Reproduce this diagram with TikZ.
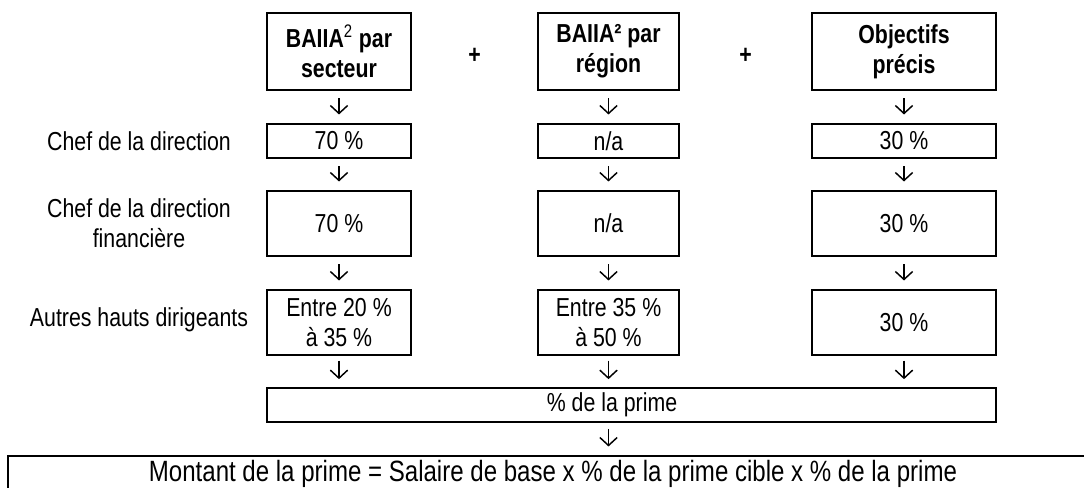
\documentclass[tikz,border=0pt]{standalone}
\usepackage{fontspec}
\setmainfont{Liberation Sans}[FakeStretch=0.82]
\usetikzlibrary{arrows.meta,calc}
\begin{document}
\begin{tikzpicture}[x=0.75pt,y=-0.75pt,
  every node/.style={font=\fontsize{19.5}{22.5}\selectfont, inner sep=0pt},
  box/.style={draw, line width=1.3pt, align=center},
  head/.style={box, font=\fontsize{19.5}{22.5}\selectfont\bfseries, minimum height=77*0.75pt},
  rowa/.style={box, minimum height=34*0.75pt},
  rowb/.style={box, minimum height=65*0.75pt},
  cA/.style={minimum width=144*0.75pt},
  cB/.style={minimum width=141*0.75pt},
  cC/.style={minimum width=184*0.75pt},
  lab/.style={align=center},
  plus/.style={font=\fontsize{19.5}{22.5}\selectfont\bfseries},
  arr/.style={line width=1.1pt, -{Straight Barb[length=6pt,width=13pt,line width=1.1pt]},
    shorten <=5.5pt, shorten >=6.5pt}
]
\useasboundingbox (0,0) rectangle (1084,487);

% header boxes
\node[head,cA] (t1) at (339,51.5) {BAIIA\textsuperscript{\normalfont 2} par\\secteur};
\node[head,cB] (t2) at (608.5,51.5) {BAIIA² par\\région};
\node[head,cC] (t3) at (904,51.5) {Objectifs\\précis};
\node[plus] (p1) at ($(t1.east)!0.5!(t2.west)+(0,4)$) {+};
\node[plus] (p2) at ($(t2.east)!0.5!(t3.west)+(0,4)$) {+};

% row labels
\node[lab] (l1) at (139,141) {Chef de la direction};
\node[lab] (l2) at (139,223.5) {Chef de la direction\\financière};
\node[lab] (l3) at (139,320) {Autres hauts dirigeants};

% row 1
\node[rowa,cA] (a1) at (339,141) {70 \%};
\node[rowa,cB] (a2) at (608.5,141) {n/a};
\node[rowa,cC] (a3) at (904,141) {30 \%};
% row 2
\node[rowb,cA] (b1) at (339,223.5) {70 \%};
\node[rowb,cB] (b2) at (608.5,223.5) {n/a};
\node[rowb,cC] (b3) at (904,223.5) {30 \%};
% row 3
\node[rowb,cA] (c1) at (339,322.5) {Entre 20 \%\\à 35 \%};
\node[rowb,cB] (c2) at (608.5,322.5) {Entre 35 \%\\à 50 \%};
\node[rowb,cC] (c3) at (904,322.5) {30 \%};

% percentage box
\node[rowa, minimum width=729*0.75pt] (pct) at (631.5,405) {};
\node (pcttxt) at (612,405) {\% de la prime};

% bottom box (runs off the page on the right and bottom)
\node[box, minimum width=1092*0.75pt, minimum height=48*0.75pt] (bot) at (554,480) {};
\node[font=\fontsize{22}{26}\selectfont] (bottxt) at (553,474) {Montant de la prime = Salaire de base x \% de la prime cible x \% de la prime};

% arrows
\foreach \c in {1,2,3}{
  \draw[arr] (t\c) -- (a\c);
  \draw[arr] (a\c) -- (b\c);
  \draw[arr] (b\c) -- (c\c);
  \draw[arr, shorten <=3.5pt, shorten >=6pt] (c\c.south) -- (c\c.south |- pct.north);
}
\draw[arr, shorten <=4.5pt, shorten >=6.5pt] (pct.south -| c2) -- (bot.north -| c2);
\end{tikzpicture}
\end{document}
